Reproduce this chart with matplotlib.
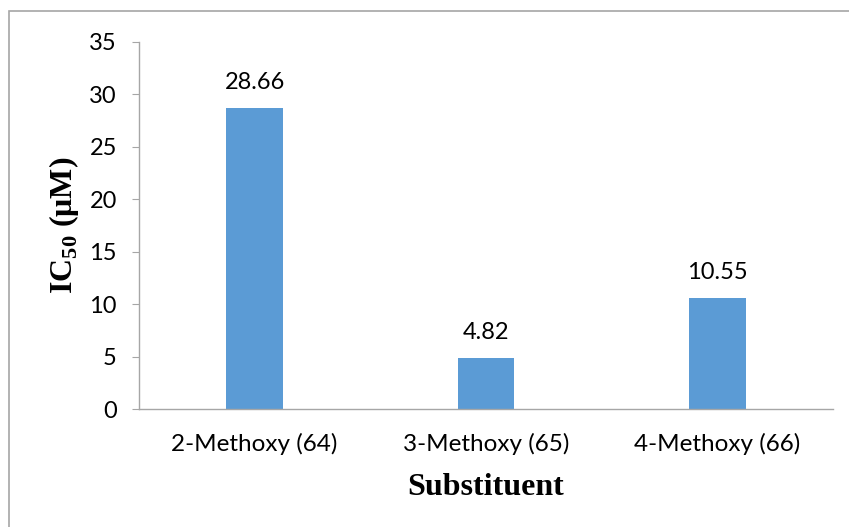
import matplotlib.pyplot as plt
from matplotlib.patches import Rectangle

categories = ["2-Methoxy (64)", "3-Methoxy (65)", "4-Methoxy (66)"]
ic50 = [28.66, 4.82, 10.55]
yticks = [0, 5, 10, 15, 20, 25, 30, 35]

BAR_COLOR = "#5B9BD5"
AXIS_COLOR = "#A6A6A6"
TICK_FONT = "Lato"

plt.rcParams["mathtext.fontset"] = "custom"
plt.rcParams["mathtext.rm"] = "Liberation Serif:bold"
plt.rcParams["mathtext.bf"] = "Liberation Serif:bold"


def main() -> None:
    fig = plt.figure(figsize=(8.49, 5.27), dpi=100)
    ax = fig.add_axes([139 / 849, 1 - 409 / 527, (833 - 139) / 849, (409 - 42) / 527])

    x = range(len(categories))
    bars = ax.bar(x, ic50, width=0.246, color=BAR_COLOR)

    for b, v in zip(bars, ic50):
        ax.annotate(f"{v:.2f}", (b.get_x() + b.get_width() / 2, v),
                    xytext=(0, 11), textcoords="offset points",
                    ha="center", va="bottom", fontsize=17, family=TICK_FONT)

    ax.set_xlim(-0.5, len(categories) - 0.5)
    ax.set_ylim(0, 35)
    ax.set_yticks(yticks)
    ax.set_yticklabels([str(t) for t in yticks], fontsize=17, family=TICK_FONT)
    ax.set_xticks(list(x))
    ax.set_xticklabels(categories, fontsize=17.5, family=TICK_FONT)
    ax.tick_params(axis="x", length=0, pad=17)
    ax.tick_params(axis="y", length=5, color=AXIS_COLOR, pad=11)

    for side in ("top", "right"):
        ax.spines[side].set_visible(False)
    for side in ("left", "bottom"):
        ax.spines[side].set_color(AXIS_COLOR)
        ax.spines[side].set_linewidth(1.0)

    ax.set_ylabel(r"IC$_{\mathbf{50}}$ (μM)", fontsize=23, fontweight="bold",
                  family="Liberation Serif", labelpad=6)
    ax.set_xlabel("Substituent", fontsize=23, fontweight="bold",
                  family="Liberation Serif", labelpad=13)

    # outer chart border
    fig.patches.append(Rectangle((9 / 849, -0.1), 1.2, 1 - 11 / 527 + 0.1,
                                 transform=fig.transFigure, fill=False,
                                 edgecolor=AXIS_COLOR, linewidth=1.2))

    fig.savefig("out.png", dpi=100)
    plt.close(fig)


if __name__ == "__main__":
    main()
